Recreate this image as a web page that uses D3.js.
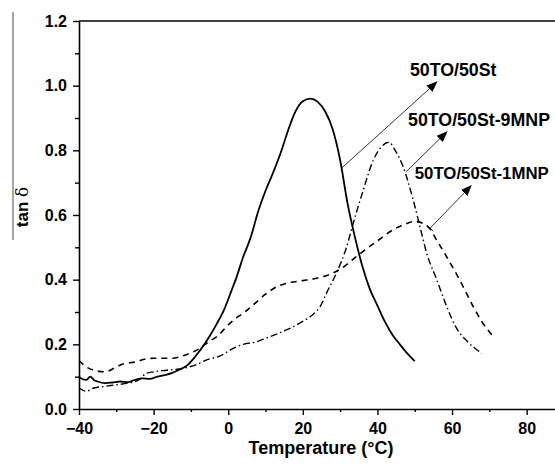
<!DOCTYPE html>
<html>
<head>
<meta charset="utf-8">
<script src="https://cdn.jsdelivr.net/npm/d3@7"></script>
<style>
  html, body { margin: 0; padding: 0; background: #fff; overflow: hidden; }
  text { font-family: "Liberation Sans", Arial, sans-serif; font-weight: bold; fill: #000; }
</style>
</head>
<body>
<div id="chart"></div>
<script>
// temperature (°C) and tan delta
var tempPure = [-40, -39, -38, -37, -36, -35, -33, -31, -29, -27, -25, -23, -21, -19, -17, -15, -13, -11, -9, -7, -5, -3, -1, 1, 2, 4, 6, 8, 10, 12, 14, 16, 18, 20, 22, 24, 26, 28, 30, 32, 34, 36, 38, 40, 42, 44, 46, 48, 50];
var tanPure  = [0.10, 0.092, 0.09, 0.10, 0.09, 0.085, 0.08, 0.082, 0.085, 0.083, 0.09, 0.095, 0.093, 0.10, 0.105, 0.112, 0.122, 0.135, 0.16, 0.19, 0.225, 0.265, 0.31, 0.37, 0.40, 0.47, 0.53, 0.61, 0.675, 0.73, 0.79, 0.86, 0.92, 0.952, 0.96, 0.95, 0.92, 0.865, 0.77, 0.635, 0.53, 0.44, 0.37, 0.32, 0.27, 0.23, 0.2, 0.172, 0.148];

var temp1MNP = [-40, -38, -36, -33, -30, -28, -25, -22, -20, -15, -12, -8, -5, -3, 0, 2, 4, 7, 10, 13, 16, 20, 24, 28, 31, 34, 37, 40, 44, 47, 50, 52, 54, 56, 58.6, 62, 66, 68, 71];
var tan1MNP  = [0.15, 0.13, 0.12, 0.115, 0.13, 0.14, 0.145, 0.155, 0.157, 0.157, 0.165, 0.185, 0.21, 0.224, 0.26, 0.28, 0.296, 0.325, 0.355, 0.378, 0.39, 0.397, 0.405, 0.42, 0.44, 0.468, 0.495, 0.52, 0.553, 0.57, 0.58, 0.575, 0.558, 0.52, 0.47, 0.40, 0.31, 0.27, 0.225];

var temp9MNP = [-40, -38, -36, -33, -30, -27, -24, -22, -20, -16.5, -12, -8, -5.8, -2, 0.5, 4, 7.6, 10.3, 14.7, 18, 21, 23, 24.6, 26.4, 29, 31.7, 33.5, 36.2, 38.9, 41, 43, 45, 46.9, 49.6, 51.4, 53.2, 55.9, 58.6, 61.2, 64, 68];
var tan9MNP  = [0.065, 0.055, 0.065, 0.07, 0.075, 0.08, 0.09, 0.11, 0.115, 0.12, 0.126, 0.14, 0.152, 0.165, 0.182, 0.2, 0.208, 0.22, 0.24, 0.258, 0.278, 0.295, 0.316, 0.36, 0.42, 0.50, 0.574, 0.677, 0.77, 0.81, 0.825, 0.795, 0.749, 0.646, 0.564, 0.482, 0.40, 0.316, 0.25, 0.21, 0.172];

var seriesNames = ["50TO/50St", "50TO/50St-9MNP", "50TO/50St-1MNP"];
var xTicks = [-40, -20, 0, 20, 40, 60, 80];
var yTicks = [0.0, 0.2, 0.4, 0.6, 0.8, 1.0, 1.2];

var width = 555, height = 467;
var margin = {top: 21, left: 79, bottom: 58, right: 0};

var svg = d3.select("#chart").append("svg")
    .attr("width", width)
    .attr("height", height);

var x = d3.scaleLinear().domain([-40, 87.6]).range([margin.left, width - margin.right]);
var y = d3.scaleLinear().domain([0, 1.2]).range([height - margin.bottom, margin.top]);

var zip = function(xs, ys) { return xs.map(function(v, i) { return [v, ys[i]]; }); };

var series = [
  {name: seriesNames[0], data: zip(tempPure, tanPure), dash: null, w: 1.8},
  {name: seriesNames[1], data: zip(temp9MNP, tan9MNP), dash: "7,3,1.5,3", w: 1.4},
  {name: seriesNames[2], data: zip(temp1MNP, tan1MNP), dash: "6,5", w: 1.6}
];

// minor ticks first (outward, short)
var xMinor = d3.range(-30, 90, 20);
var yMinor = d3.range(0.1, 1.2, 0.2);

svg.append("g")
    .attr("transform", "translate(0," + y(0) + ")")
    .call(d3.axisBottom(x).tickValues(xMinor).tickSize(3).tickFormat(""))
    .call(function(g) { g.select(".domain").remove(); });
svg.append("g")
    .attr("transform", "translate(" + x(-40) + ",0)")
    .call(d3.axisLeft(y).tickValues(yMinor).tickSize(4).tickFormat(""))
    .call(function(g) { g.select(".domain").remove(); });

var xAxis = svg.append("g")
    .attr("transform", "translate(0," + y(0) + ")")
    .call(d3.axisBottom(x).tickValues(xTicks).tickSize(6).tickSizeOuter(0).tickPadding(3).tickFormat(d3.format("d")));
var yAxis = svg.append("g")
    .attr("transform", "translate(" + x(-40) + ",0)")
    .call(d3.axisLeft(y).tickValues(yTicks).tickSize(6).tickSizeOuter(0).tickPadding(6).tickFormat(d3.format(".1f")));

[xAxis, yAxis].forEach(function(g) {
  g.selectAll("text").style("font-size", "16px").style("font-family", "'Liberation Sans', Arial, sans-serif").style("font-weight", "bold");
  g.select(".domain").attr("stroke-width", 1.6);
});
xAxis.selectAll("text").attr("dy", "1.0em");
svg.selectAll(".tick line").attr("stroke-width", 1.4);

// top frame line
svg.append("line")
    .attr("x1", x(-40)).attr("x2", width)
    .attr("y1", y(1.2)).attr("y2", y(1.2))
    .attr("stroke", "#000").attr("stroke-width", 1.6);

// axis titles
svg.append("text")
    .attr("x", 321)
    .attr("y", 454)
    .attr("text-anchor", "middle")
    .style("font-size", "18px")
    .text("Temperature (°C)");

svg.append("line")
    .attr("x1", 13).attr("x2", 13)
    .attr("y1", 12).attr("y2", 240)
    .attr("stroke", "#888").attr("stroke-width", 1.5);

var yTitle = svg.append("text")
    .attr("transform", "translate(28,207) rotate(-90)")
    .attr("text-anchor", "middle")
    .style("font-size", "17px");
yTitle.append("tspan").text("tan ");
yTitle.append("tspan").style("font-weight", "normal").style("font-family", "'DejaVu Serif', serif").text("δ");

// curves
var line = d3.line()
    .x(function(d) { return x(d[0]); })
    .y(function(d) { return y(d[1]); })
    .curve(d3.curveMonotoneX);

svg.selectAll("path.curve")
    .data(series)
    .enter()
    .append("path")
    .attr("class", "curve")
    .attr("d", function(d) { return line(d.data); })
    .attr("fill", "none")
    .attr("stroke", "#000")
    .attr("stroke-width", function(d) { return d.w; })
    .attr("stroke-dasharray", function(d) { return d.dash; });

// annotations: arrow from curve to label, in data coordinates
var arrowFrom = [[30.4, 0.745], [47.6, 0.733], [54.1, 0.559]];
var arrowTo   = [[55.9, 1.011], [58.6, 0.857], [65.1, 0.690]];
var labelAt   = [[48.7, 1.03], [48.2, 0.875], [50.0, 0.71]];

svg.append("defs").append("marker")
    .attr("id", "head")
    .attr("viewBox", "0 0 10 10")
    .attr("refX", 9).attr("refY", 5)
    .attr("markerWidth", 11).attr("markerHeight", 11)
    .attr("markerUnits", "userSpaceOnUse")
    .attr("orient", "auto")
    .append("path")
    .attr("d", "M0,1 L10,5 L0,9 Z")
    .attr("fill", "#000");

svg.selectAll("line.arrow")
    .data(arrowFrom)
    .enter()
    .append("line")
    .attr("class", "arrow")
    .attr("x1", function(d) { return x(d[0]); })
    .attr("y1", function(d) { return y(d[1]); })
    .attr("x2", function(d, i) { return x(arrowTo[i][0]); })
    .attr("y2", function(d, i) { return y(arrowTo[i][1]); })
    .attr("stroke", "#000")
    .attr("stroke-width", 0.8)
    .attr("marker-end", "url(#head)");

// little bar at the start of the third arrow
var a3 = arrowFrom[2];
svg.append("line")
    .attr("x1", x(a3[0]) - 3).attr("y1", y(a3[1]) - 3)
    .attr("x2", x(a3[0]) + 3).attr("y2", y(a3[1]) + 3)
    .attr("stroke", "#000").attr("stroke-width", 1);

// last label sits at the right edge, keep it just inside
svg.selectAll("text.label")
    .data(seriesNames)
    .enter()
    .append("text")
    .attr("class", "label")
    .attr("x", function(d, i) { return x(labelAt[i][0]); })
    .attr("y", function(d, i) { return y(labelAt[i][1]); })
    .style("font-size", function(d, i) { return i === 2 ? "16.8px" : "17.8px"; })
    .text(function(d) { return d; });
</script>
</body>
</html>
